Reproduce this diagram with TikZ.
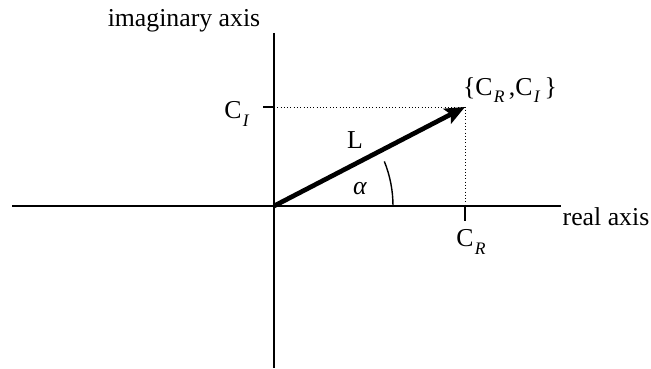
\documentclass[tikz,border=0pt]{standalone}
\usepackage{fontspec}
\setmainfont{Liberation Serif}
\usetikzlibrary{arrows.meta, positioning}
\tikzset{
  every picture/.style={line width=1.2pt},
  axis/.style={draw=black, line width=2.4pt},
  vec/.style={-{Stealth[length=6mm, width=5mm, inset=1.2mm]}, line width=4pt},
  guide/.style={dotted, line width=0.8pt},
  lbl/.style={font=\fontsize{22}{26}\selectfont, inner sep=1pt},
}
\newcommand{\cs}[1]{C\kern0.05em\raisebox{-0.3em}{\fontsize{15}{17}\selectfont\textit{#1}}}

\begin{document}
\begin{tikzpicture}[x=0.03cm, y=-0.03cm]
  \useasboundingbox (0,0) rectangle (651,369);
  % axes
  \coordinate (O) at (274,206);
  \coordinate (xl) at (12,206);
  \coordinate (xr) at (561,206);
  \coordinate (yt) at (274,33);
  \coordinate (yb) at (274,368);
  \coordinate (P) at (465,107);
  \coordinate (ci) at (274,107);
  \coordinate (cr) at (465,206);
  \draw[axis] (xl) -- (xr);
  \draw[axis] (yt) -- (yb);
  % ticks
  \draw[axis] (ci) -- ++(-11,0);
  \draw[axis] (cr) -- ++(0,15);
  % guides
  \draw[guide] (ci) -- (P) -- (cr);
  % vector and angle
  \draw[vec] (O) -- (P);
  \draw[line width=1.2pt] ([shift={(0:119)}]O) arc[start angle=0, end angle=-22, radius=119];
  % labels
  \node[lbl] (imag) at (184,21) {imaginary axis};
  \node[lbl] (real) at (606,217) {real axis};
  \node[lbl] (lci) at (237,114) {\cs{I}};
  \node[lbl] (lcr) at (471,242) {\cs{R}};
  \node[lbl] (pt) at (510,90) {\{\cs{R}\,,\cs{I}\,\}};
  \node[lbl] (len) at (355,140) {L};
  \node[lbl] (ang) at (360,189) {\textit{α}};
\end{tikzpicture}
\end{document}
